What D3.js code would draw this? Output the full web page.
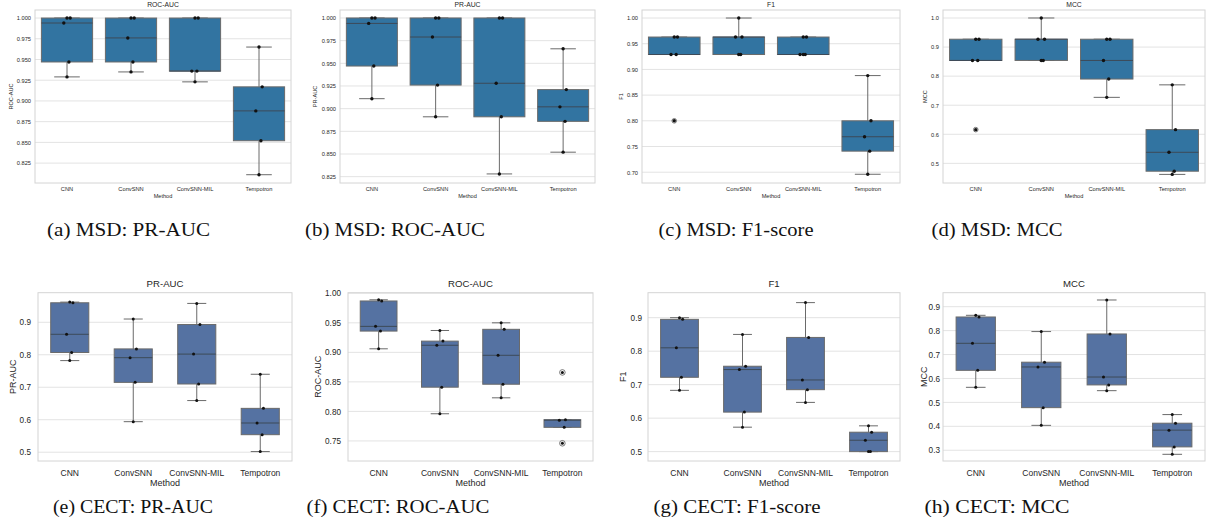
<!DOCTYPE html>
<html>
<head>
<meta charset="utf-8">
<script src="https://cdn.jsdelivr.net/npm/d3@7"></script>
<style>
  body { margin: 0; background: #fff; }
  svg text { font-family: "Liberation Sans", Arial, sans-serif; fill: #262626; }
  .caption { font-family: "Liberation Serif", "Times New Roman", serif; fill: #111; }
</style>
</head>
<body>
<svg id="chart" width="1208" height="531"></svg>
<script>
/* Eight seaborn-style box plots, MSD on top, CECT below */
var methods = ["CNN", "ConvSNN", "ConvSNN-MIL", "Tempotron"];

// MSD (top row), five folds per method
var msdRoc = [[1.0, 1.0, 0.994, 0.947, 0.929], [1.0, 1.0, 0.976, 0.947, 0.935], [1.0, 1.0, 0.936, 0.936, 0.923], [0.965, 0.917, 0.888, 0.852, 0.811]];
var msdPr = [[1.0, 1.0, 0.994, 0.947, 0.911], [1.0, 1.0, 0.979, 0.926, 0.891], [1.0, 1.0, 0.928, 0.891, 0.828], [0.966, 0.921, 0.902, 0.886, 0.852]];
var msdF1 = [[0.963, 0.963, 0.929, 0.929, 0.800], [1.0, 0.963, 0.963, 0.929, 0.929], [0.963, 0.963, 0.929, 0.929, 0.929], [0.888, 0.800, 0.769, 0.741, 0.696]];
var msdMcc = [[0.927, 0.927, 0.854, 0.854, 0.616], [1.0, 0.927, 0.927, 0.854, 0.854], [0.927, 0.927, 0.854, 0.790, 0.727], [0.770, 0.616, 0.538, 0.473, 0.462]];

// CECT (bottom row)
var cectPr = [[0.962, 0.960, 0.863, 0.807, 0.782], [0.910, 0.818, 0.791, 0.715, 0.594], [0.958, 0.893, 0.802, 0.710, 0.659], [0.740, 0.635, 0.590, 0.554, 0.502]];
var cectRoc = [[0.989, 0.987, 0.944, 0.936, 0.906], [0.937, 0.919, 0.912, 0.841, 0.796], [0.950, 0.939, 0.895, 0.846, 0.823], [0.866, 0.786, 0.785, 0.773, 0.746]];
var cectF1 = [[0.900, 0.895, 0.810, 0.722, 0.683], [0.850, 0.755, 0.745, 0.618, 0.573], [0.945, 0.841, 0.714, 0.685, 0.647], [0.577, 0.558, 0.534, 0.500, 0.500]];
var cectMcc = [[0.864, 0.857, 0.747, 0.634, 0.563], [0.796, 0.668, 0.648, 0.478, 0.404], [0.928, 0.786, 0.606, 0.573, 0.549], [0.449, 0.413, 0.384, 0.314, 0.283]];

// tick labels
var ticks3 = [0.825, 0.850, 0.875, 0.900, 0.925, 0.950, 0.975, 1.000];
var ticksF1top = [0.70, 0.75, 0.80, 0.85, 0.90, 0.95, 1.00];
var ticksMccTop = [0.5, 0.6, 0.7, 0.8, 0.9, 1.0];
var ticksPrBot = [0.5, 0.6, 0.7, 0.8, 0.9];
var ticksRocBot = [0.75, 0.80, 0.85, 0.90, 0.95, 1.00];
var ticksF1Bot = [0.5, 0.6, 0.7, 0.8, 0.9];
var ticksMccBot = [0.3, 0.4, 0.5, 0.6, 0.7, 0.8, 0.9];

var rowTop = {y0: 10, y1: 183, boxW: 0.8, fill: "#3274a1", tick: 5.7, cat: 5.7, title: 6.8, lab: 5.6, dotR: 1.7, flierR: 2.3, catDy: 7.5, methodDy: 15, titleDy: -3, capY: 236};
var rowBot = {y0: 292.7, y1: 461, boxW: 0.6, fill: "#5572a2", tick: 8.2, cat: 8.5, title: 9.6, lab: 9, dotR: 1.5, flierR: 2.8, catDy: 14.5, methodDy: 24.5, titleDy: -5.5, capY: 513};

var panels = [
  {row: rowTop, x0: 35, x1: 291, data: msdRoc, title: "ROC-AUC", ylab: "ROC-AUC", dom: [0.801, 1.0097], ticks: ticks3, fmt: ".3f", gap: 4, labX: 11, cap: "(a) MSD: PR-AUC", capX: 128.5, capW: 163},
  {row: rowTop, x0: 340, x1: 595, data: msdPr, title: "PR-AUC", ylab: "PR-AUC", dom: [0.818, 1.0088], ticks: ticks3, fmt: ".3f", gap: 4, labX: 315, cap: "(b) MSD: ROC-AUC", capX: 395, capW: 180},
  {row: rowTop, x0: 642, x1: 900, data: msdF1, title: "F1", ylab: "F1", dom: [0.679, 1.0156], ticks: ticksF1top, fmt: ".2f", gap: 4, labX: 621, cap: "(c) MSD: F1-score", capX: 736, capW: 155},
  {row: rowTop, x0: 943, x1: 1205, data: msdMcc, title: "MCC", ylab: "MCC", dom: [0.4324, 1.0275], ticks: ticksMccTop, fmt: ".1f", gap: 4, labX: 925, cap: "(d) MSD: MCC", capX: 997, capW: 131},
  {row: rowBot, x0: 38, x1: 292, data: cectPr, title: "PR-AUC", ylab: "PR-AUC", dom: [0.473, 0.991], ticks: ticksPrBot, fmt: ".1f", gap: 7, labX: 13, cap: "(e) CECT: PR-AUC", capX: 133, capW: 160},
  {row: rowBot, x0: 348, x1: 593, data: cectRoc, title: "ROC-AUC", ylab: "ROC-AUC", dom: [0.716, 1.001], ticks: ticksRocBot, fmt: ".2f", gap: 7, labX: 318, cap: "(f) CECT: ROC-AUC", capX: 398, capW: 183},
  {row: rowBot, x0: 648, x1: 900, data: cectF1, title: "F1", ylab: "F1", dom: [0.472, 0.9746], ticks: ticksF1Bot, fmt: ".1f", gap: 6, labX: 623, cap: "(g) CECT: F1-score", capX: 737, capW: 167},
  {row: rowBot, x0: 943, x1: 1205, data: cectMcc, title: "MCC", ylab: "MCC", dom: [0.255, 0.9585], ticks: ticksMccBot, fmt: ".1f", gap: 3, labX: 924, cap: "(h) CECT: MCC", capX: 997, capW: 145}
];

var jitter = [0.0, 0.05, -0.05, 0.03, 0.0]; // fixed strip offsets, band fraction
var edge = "#6a6a6a";
var svg = d3.select("#chart");

function stats(vals){
	var s = vals.slice().sort(d3.ascending);
	var q1 = d3.quantile(s, 0.25), med = d3.quantile(s, 0.5), q3 = d3.quantile(s, 0.75);
	var iqr = q3 - q1;
	var inside = s.filter(function(v){ return v >= q1 - 1.5 * iqr - 1e-9 && v <= q3 + 1.5 * iqr + 1e-9; });
	return {q1: q1, med: med, q3: q3, lo: d3.min(inside), hi: d3.max(inside),
		out: s.filter(function(v){ return inside.indexOf(v) < 0; })};
}

panels.forEach(function(p){
	var r = p.row;
	var x = d3.scaleBand().domain(methods).range([p.x0, p.x1]).paddingInner(0).paddingOuter(0);
	var y = d3.scaleLinear().domain(p.dom).range([r.y1, r.y0]);
	var g = svg.append("g");
	var bw = x.bandwidth();

	// grid
	g.append("g").selectAll("line").data(p.ticks).enter().append("line")
		.attr("x1", p.x0).attr("x2", p.x1)
		.attr("y1", function(d){ return y(d); }).attr("y2", function(d){ return y(d); })
		.attr("stroke", "#e3e3e3").attr("stroke-width", 1);

	// y axis labels via d3 axis, then strip the domain/ticks
	var ya = g.append("g").attr("transform", "translate(" + p.x0 + ",0)")
		.call(d3.axisLeft(y).tickValues(p.ticks).tickFormat(d3.format(p.fmt)).tickSize(0).tickPadding(p.gap));
	ya.select(".domain").remove();
	ya.selectAll("text").attr("font-size", r.tick).attr("fill", "#333").style("font-family", "Liberation Sans, Arial, sans-serif");

	var xa = g.append("g").attr("transform", "translate(0," + r.y1 + ")")
		.call(d3.axisBottom(x).tickSize(0).tickPadding(0));
	xa.select(".domain").remove();
	xa.selectAll("text").attr("dy", null).attr("y", r.catDy).attr("font-size", r.cat).attr("fill", "#333")
		.style("font-family", "Liberation Sans, Arial, sans-serif");

	// frame
	g.append("rect").attr("x", p.x0).attr("y", r.y0).attr("width", p.x1 - p.x0).attr("height", r.y1 - r.y0)
		.attr("fill", "none").attr("stroke", "#d4d4d4").attr("stroke-width", 1);

	// boxes
	methods.forEach(function(m, i){
		var s = stats(p.data[i]);
		var cx = x(m) + bw / 2, hw = bw * r.boxW / 2, cw = hw / 2;
		var bx = g.append("g");
		bx.append("line").attr("x1", cx).attr("x2", cx).attr("y1", y(s.q3)).attr("y2", y(s.hi)).attr("stroke", edge);
		bx.append("line").attr("x1", cx).attr("x2", cx).attr("y1", y(s.q1)).attr("y2", y(s.lo)).attr("stroke", edge);
		bx.append("line").attr("x1", cx - cw).attr("x2", cx + cw).attr("y1", y(s.hi)).attr("y2", y(s.hi)).attr("stroke", edge);
		bx.append("line").attr("x1", cx - cw).attr("x2", cx + cw).attr("y1", y(s.lo)).attr("y2", y(s.lo)).attr("stroke", edge);
		bx.append("rect").attr("x", cx - hw).attr("y", y(s.q3)).attr("width", 2 * hw)
			.attr("height", Math.max(0.5, y(s.q1) - y(s.q3))).attr("fill", r.fill).attr("stroke", edge).attr("stroke-width", 1);
		bx.append("line").attr("x1", cx - hw).attr("x2", cx + hw).attr("y1", y(s.med)).attr("y2", y(s.med))
			.attr("stroke", "#3d4a58").attr("stroke-width", 1);
		bx.selectAll("circle.flier").data(s.out).enter().append("circle").classed("flier", true)
			.attr("cx", cx).attr("cy", function(d){ return y(d); }).attr("r", r.flierR)
			.attr("fill", "none").attr("stroke", "#5a5a5a").attr("stroke-width", 0.8);
		bx.selectAll("circle.pt").data(p.data[i]).enter().append("circle").classed("pt", true)
			.attr("cx", function(d, j){ return cx + jitter[j] * bw; })
			.attr("cy", function(d){ return y(d); }).attr("r", r.dotR).attr("fill", "#111");
	});

	// titles and labels
	g.append("text").attr("x", (p.x0 + p.x1) / 2).attr("y", r.y0 + r.titleDy).attr("text-anchor", "middle")
		.attr("font-size", r.title).text(p.title);
	g.append("text").attr("x", (p.x0 + p.x1) / 2).attr("y", r.y1 + r.methodDy).attr("text-anchor", "middle")
		.attr("font-size", r.lab).text("Method");
	g.append("text").attr("transform", "translate(" + p.labX + "," + (r.y0 + r.y1) / 2 + ") rotate(-90)")
		.attr("text-anchor", "middle").attr("dy", "0.35em").attr("font-size", r.lab).text(p.ylab);

	svg.append("text").classed("caption", true).attr("x", p.capX).attr("y", r.capY).attr("text-anchor", "middle")
		.attr("font-size", 18).attr("textLength", p.capW).attr("lengthAdjust", "spacingAndGlyphs").text(p.cap);
});
</script>
</body>
</html>
